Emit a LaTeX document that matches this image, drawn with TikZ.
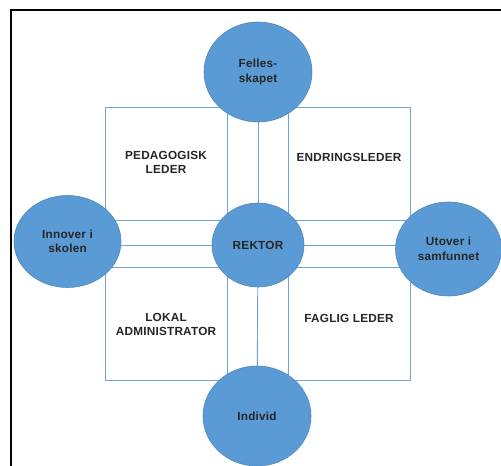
\documentclass[tikz,border=0pt]{standalone}
\usepackage{fontspec}
\setmainfont{Liberation Sans}[LetterSpace=2]
\usetikzlibrary{shapes.geometric}
\definecolor{cblue}{HTML}{5B9BD5}
\definecolor{cedge}{HTML}{4F86BC}
\definecolor{lblue}{HTML}{6FA3D8}
\tikzset{
  circ/.style={ellipse, fill=cblue, draw=cedge, line width=0.6bp, inner sep=0pt,
    align=center, font=\fontsize{11.8}{14.5}\selectfont\bfseries, text=black!85},
  boxnode/.style={draw=lblue, fill=white, line width=0.9bp, minimum width=122bp,
    minimum height=113bp, inner sep=0pt},
  txt/.style={align=center, font=\fontsize{11.8}{14.5}\selectfont\bfseries, text=black!85},
  link/.style={draw=lblue, line width=0.9bp},
  frame/.style={draw=black, line width=1.4bp}
}
\begin{document}
\begin{tikzpicture}[x=1bp, y=-1bp]
\useasboundingbox (0,0) rectangle (501,466);
\clip (0,0) rectangle (501,466);
\fill[white] (0,0) rectangle (501,466);
\draw[frame] (11,480) -- (11,10) -- (520,10);
% boxes
\node[boxnode] (b1) at (166,163.5) {};
\node[boxnode] (b2) at (349,163.5) {};
\node[boxnode] (b3) at (166,323.5) {};
\node[boxnode] (b4) at (349,323.5) {};
% circle positions (named, drawn below)
\coordinate (ctop) at (258,72);
\coordinate (cleft) at (67.5,241.5);
\coordinate (crek) at (258,245);
\coordinate (cright) at (448.5,249);
\coordinate (cbot) at (257,416);
% connectors
\draw[link] (ctop) -- (crek);
\draw[link] (crek) -- (cbot);
\draw[link] (cleft) -- (crek -| cleft) -- (crek);
\draw[link] (crek) -- (crek -| cright);
% circles
\node[circ, minimum width=108bp, minimum height=100bp] (top) at (ctop) {Felles-\\skapet};
\node[circ, minimum width=107bp, minimum height=92bp] (left) at (cleft) {Innover i\\skolen};
\node[circ, minimum width=92bp, minimum height=84bp] (rek) at (crek) {REKTOR};
\node[circ, minimum width=106bp, minimum height=94bp] (right) at (cright) {Utover i\\samfunnet};
\node[circ, minimum width=108bp, minimum height=100bp] (bot) at (cbot) {Individ};
% box texts
\node[txt] (t1) at ([yshift=1bp]b1.center) {PEDAGOGISK\\LEDER};
\node[txt] (t2) at ([yshift=6bp]b2.center) {ENDRINGSLEDER};
\node[txt] (t3) at ([yshift=-1bp]b3.center) {LOKAL\\ADMINISTRATOR};
\node[txt] (t4) at ([yshift=5.5bp]b4.center) {FAGLIG LEDER};
\end{tikzpicture}
\end{document}
